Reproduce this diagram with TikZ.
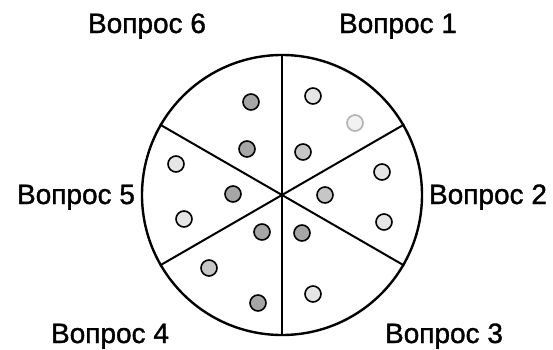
\documentclass[tikz,border=0pt]{standalone}
\usepackage{fontspec}
\setmainfont{Liberation Sans}[FakeBold=1.2]
\usepackage{tikz}
\usetikzlibrary{positioning}

\begin{document}
\begin{tikzpicture}[x=1pt, y=1pt,
    lbl/.style={anchor=base, font=\fontsize{28}{30}\selectfont, inner sep=0pt},
    dot/.style={circle, draw, line width=1.6pt, minimum size=16pt, inner sep=0pt},
    lite/.style={dot, fill=gray!20},
    mid/.style={dot, fill=gray!45},
    dark/.style={dot, fill=gray!70},
    spoke/.style={line width=2pt},
]
\useasboundingbox (0, 0) rectangle (553, 349);
\node[circle, draw, line width=2.4pt, minimum size=280pt, inner sep=0pt] (wheel) at (282, 154) {};

% Spokes
\draw[spoke] (wheel.center) -- (wheel.90);
\draw[spoke] (wheel.center) -- (wheel.30);
\draw[spoke] (wheel.center) -- (wheel.-30);
\draw[spoke] (wheel.center) -- (wheel.-90);
\draw[spoke] (wheel.center) -- (wheel.210);
\draw[spoke] (wheel.center) -- (wheel.150);

% Labels
\node[lbl] (q1) at (398, 316) {Вопрос 1};
\node[lbl] (q2) at (488, 145) {Вопрос 2};
\node[lbl] (q3) at (444, 6) {Вопрос 3};
\node[lbl] (q4) at (110, 6) {Вопрос 4};
\node[lbl] (q5) at (76, 145) {Вопрос 5};
\node[lbl] (q6) at (147, 316) {Вопрос 6};

% Dots, sector 1
\node[lite] (d1a) at (313, 253) {};
\node[dot, draw=gray!60, fill=gray!10] (d1b) at (355, 226) {};
\node[mid] (d1c) at (303, 197) {};
% sector 2
\node[lite] (d2a) at (382, 177) {};
\node[mid] (d2b) at (325, 154) {};
\node[lite] (d2c) at (384, 127) {};
% sector 3
\node[dark] (d3a) at (302, 116) {};
\node[lite] (d3b) at (313, 55) {};
% sector 4
\node[dark] (d4a) at (262, 117) {};
\node[mid] (d4b) at (209, 81) {};
\node[dark] (d4c) at (258, 46) {};
% sector 5
\node[lite] (d5a) at (176, 185) {};
\node[dark] (d5b) at (233, 155) {};
\node[lite] (d5c) at (184, 130) {};
% sector 6
\node[dark] (d6a) at (251, 247) {};
\node[dark] (d6b) at (247, 200) {};
\end{tikzpicture}
\end{document}
